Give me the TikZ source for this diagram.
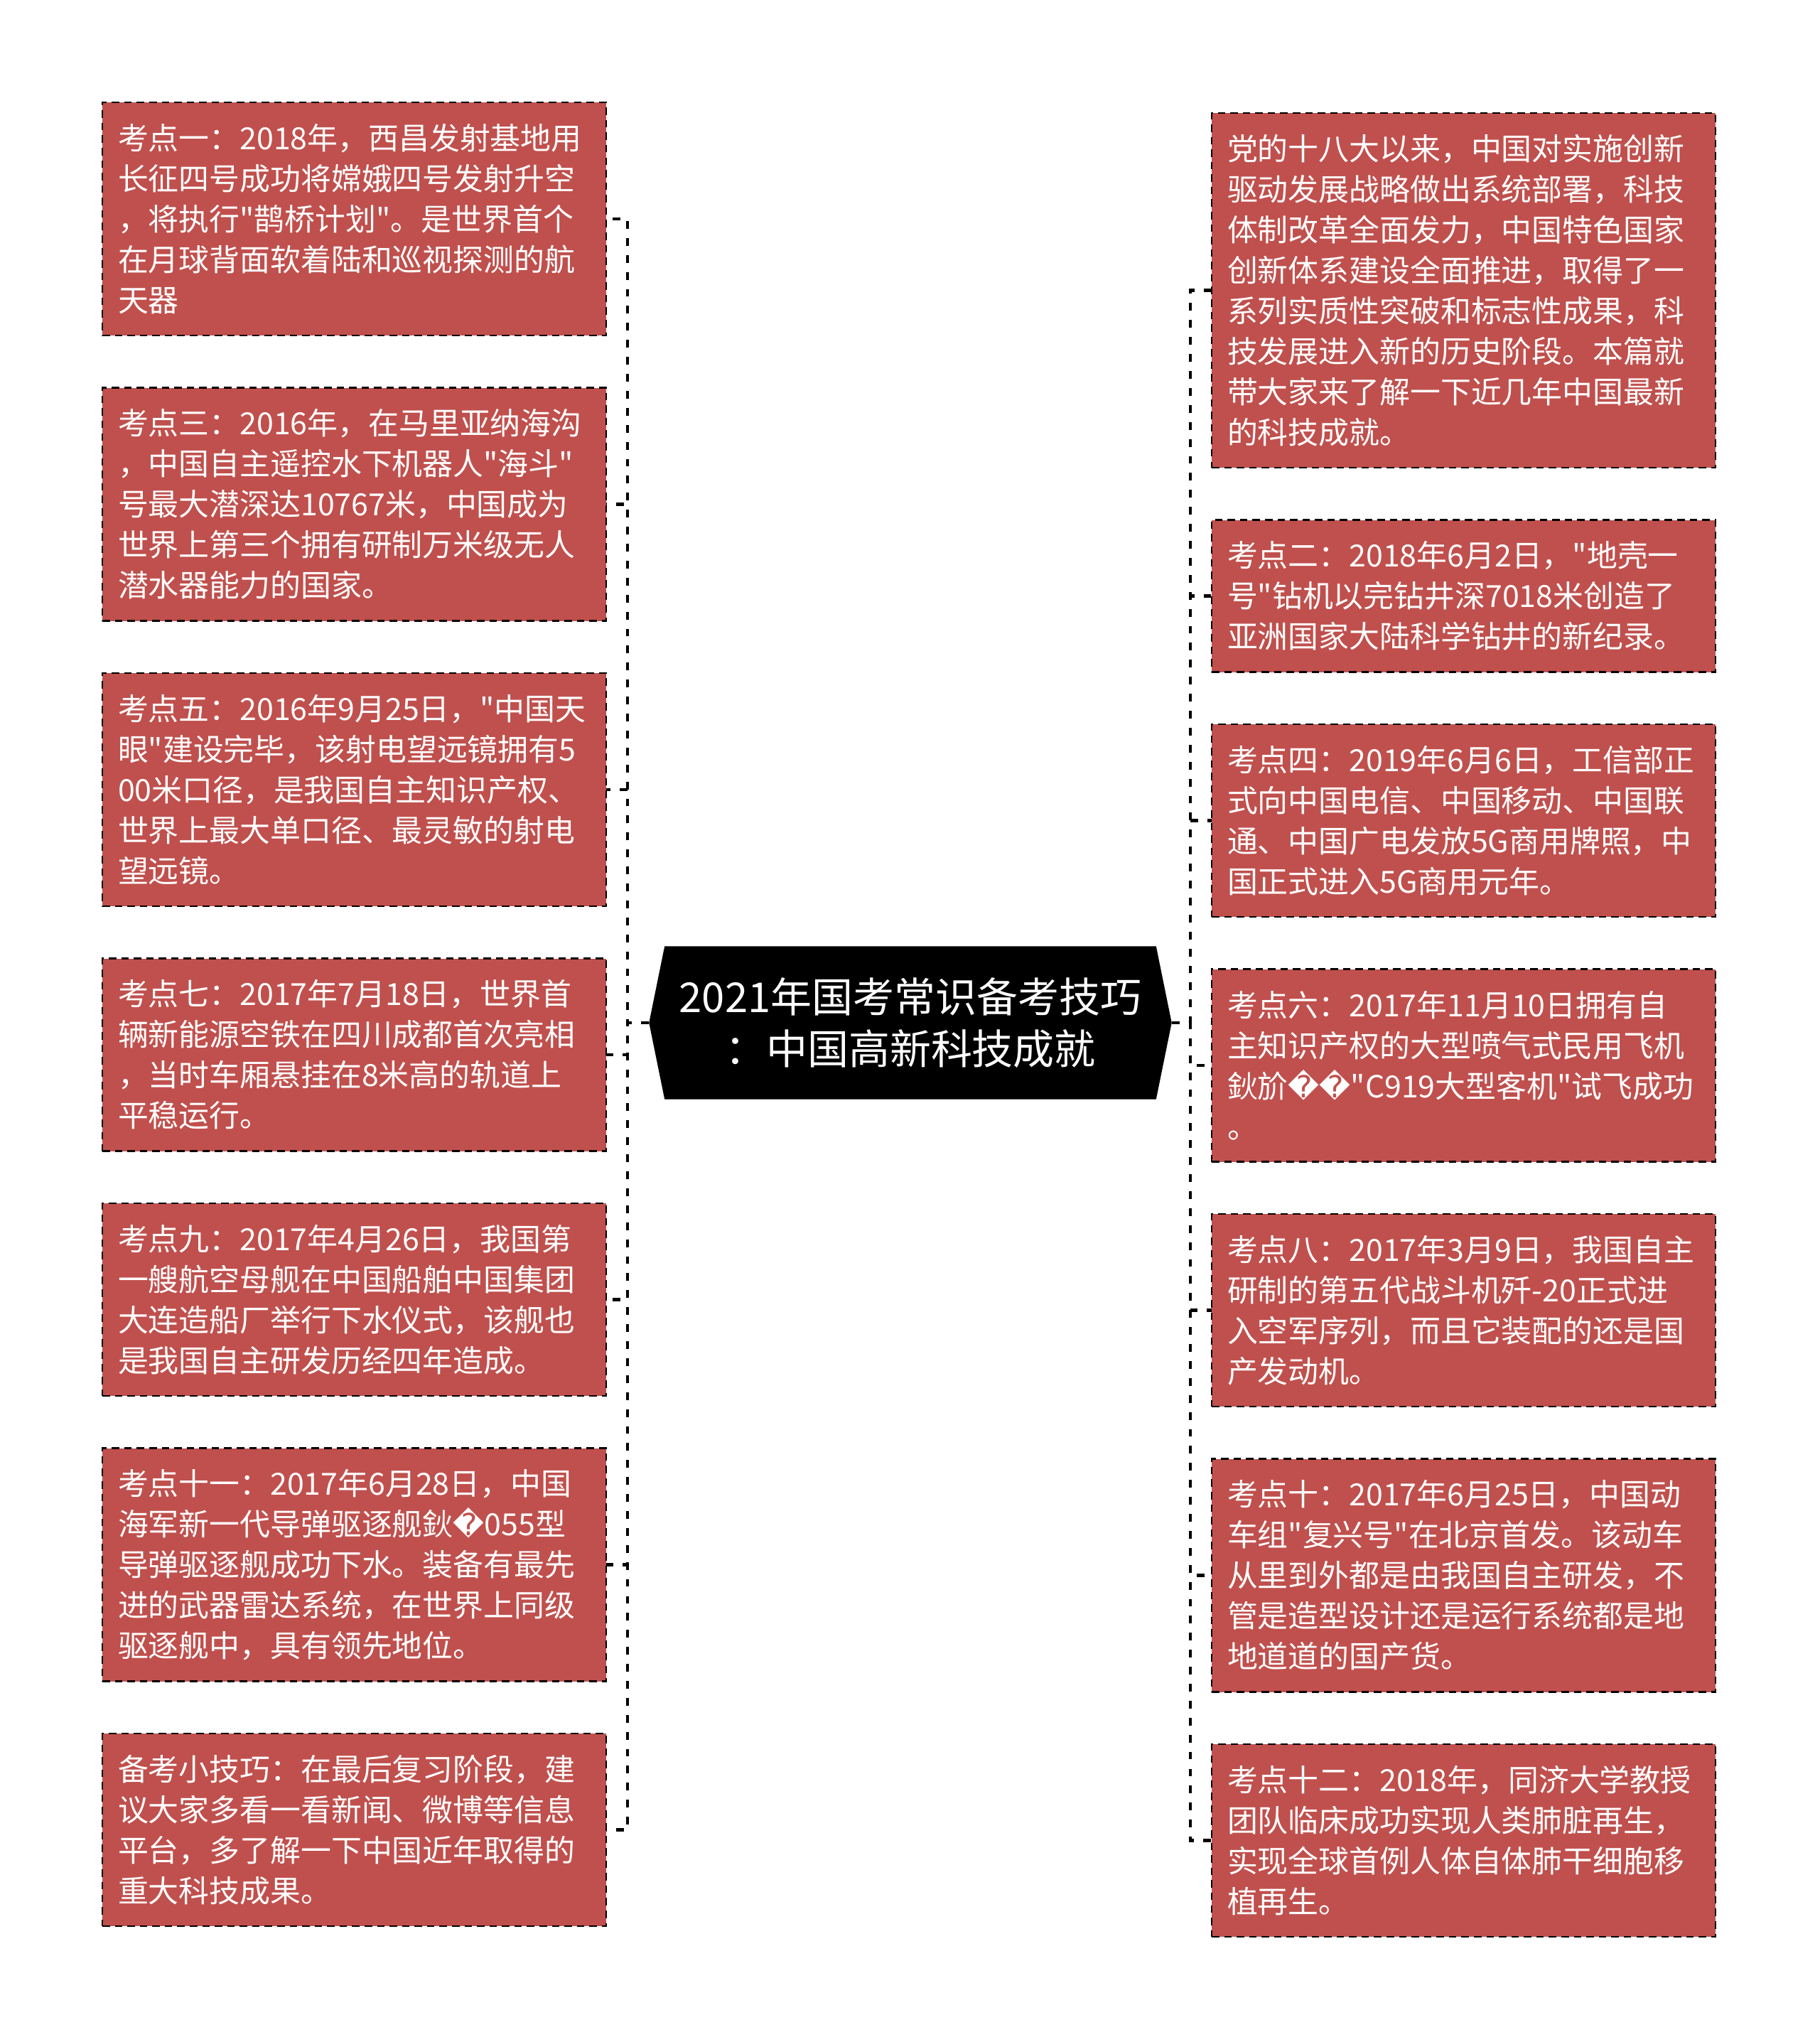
\documentclass[tikz,border=0pt]{standalone}
\usepackage{fontspec}
\setmainfont{Noto Sans CJK SC}[Ligatures=TeXOff]
\newfontfamily\djvfont{DejaVu Sans}
\usepackage{tikz}
\usetikzlibrary{positioning, shapes.symbols}

\definecolor{boxred}{HTML}{C0504D}
\newcommand{\badchar}{{\djvfont\symbol{"FFFD}}}

\begin{document}
\begin{tikzpicture}[
    node distance=0.735cm,
    fact/.style={draw=black, line width=0.7pt, dash pattern=on 3pt off 2pt,
                 fill=boxred, text=white, align=left, anchor=north west,
                 text width=6.65cm, inner xsep=0.22cm, inner ysep=0pt, outer sep=0pt,
                 minimum width=7.09cm, minimum height={0.57cm*#1+0.43cm},
                 font=\fontsize{12.2pt}{16.2pt}\selectfont},
    hub/.style={signal, signal to=west and east, signal pointer angle=157,
                fill=black, draw=black, text=white, align=center,
                minimum width=7.34cm, minimum height=2.14cm,
                font=\fontsize{16.5pt}{20.7pt}\selectfont},
    link/.style={draw=black, line width=1.25pt, dash pattern=on 3.1pt off 3.7pt}]
  \useasboundingbox (0,0) rectangle (25.60,-28.66);

  % centre topic
  \node[hub] (hub) at (12.81,-14.39)
    {2021年国考常识备考技巧\\：中国高新科技成就};

  % left column
  \node[fact=5] (l1) at (1.44,-1.44)
    {考点一：2018年，西昌发射基地用\\长征四号成功将嫦娥四号发射升空\\，将执行"鹊桥计划"。是世界首个\\在月球背面软着陆和巡视探测的航\\天器};
  \node[fact=5, below=of l1.south west, anchor=north west] (l2)
    {考点三：2016年，在马里亚纳海沟\\，中国自主遥控水下机器人"海斗"\\号最大潜深达10767米，中国成为\\世界上第三个拥有研制万米级无人\\潜水器能力的国家。};
  \node[fact=5, below=of l2.south west, anchor=north west] (l3)
    {考点五：2016年9月25日，"中国天\\眼"建设完毕，该射电望远镜拥有5\\00米口径，是我国自主知识产权、\\世界上最大单口径、最灵敏的射电\\望远镜。};
  \node[fact=4, below=of l3.south west, anchor=north west] (l4)
    {考点七：2017年7月18日，世界首\\辆新能源空铁在四川成都首次亮相\\，当时车厢悬挂在8米高的轨道上\\平稳运行。};
  \node[fact=4, below=of l4.south west, anchor=north west] (l5)
    {考点九：2017年4月26日，我国第\\一艘航空母舰在中国船舶中国集团\\大连造船厂举行下水仪式，该舰也\\是我国自主研发历经四年造成。};
  \node[fact=5, below=of l5.south west, anchor=north west] (l6)
    {考点十一：2017年6月28日，中国\\海军新一代导弹驱逐舰鈥\badchar 055型\\导弹驱逐舰成功下水。装备有最先\\进的武器雷达系统，在世界上同级\\驱逐舰中，具有领先地位。};
  \node[fact=4, below=of l6.south west, anchor=north west] (l7)
    {备考小技巧：在最后复习阶段，建\\议大家多看一看新闻、微博等信息\\平台，多了解一下中国近年取得的\\重大科技成果。};

  % right column
  \node[fact=8] (r1) at (17.05,-1.59)
    {党的十八大以来，中国对实施创新\\驱动发展战略做出系统部署，科技\\体制改革全面发力，中国特色国家\\创新体系建设全面推进，取得了一\\系列实质性突破和标志性成果，科\\技发展进入新的历史阶段。本篇就\\带大家来了解一下近几年中国最新\\的科技成就。};
  \node[fact=3, below=of r1.south west, anchor=north west] (r2)
    {考点二：2018年6月2日，"地壳一\\号"钻机以完钻井深7018米创造了\\亚洲国家大陆科学钻井的新纪录。};
  \node[fact=4, below=of r2.south west, anchor=north west] (r3)
    {考点四：2019年6月6日，工信部正\\式向中国电信、中国移动、中国联\\通、中国广电发放5G商用牌照，中\\国正式进入5G商用元年。};
  \node[fact=4, below=of r3.south west, anchor=north west] (r4)
    {考点六：2017年11月10日拥有自\\主知识产权的大型喷气式民用飞机\\鈥斺\badchar\badchar"C919大型客机"试飞成功\\。};
  \node[fact=4, below=of r4.south west, anchor=north west] (r5)
    {考点八：2017年3月9日，我国自主\\研制的第五代战斗机歼-20正式进\\入空军序列，而且它装配的还是国\\产发动机。};
  \node[fact=5, below=of r5.south west, anchor=north west] (r6)
    {考点十：2017年6月25日，中国动\\车组"复兴号"在北京首发。该动车\\从里到外都是由我国自主研发，不\\管是造型设计还是运行系统都是地\\地道道的国产货。};
  \node[fact=4, below=of r6.south west, anchor=north west] (r7)
    {考点十二：2018年，同济大学教授\\团队临床成功实现人类肺脏再生，\\实现全球首例人体自体肺干细胞移\\植再生。};

  % connectors to the left
  \draw[link] (hub.west) -- ++(-0.30,0) |- (l1.east);
  \draw[link] (hub.west) -- ++(-0.30,0) |- (l2.east);
  \draw[link] (hub.west) -- ++(-0.30,0) |- (l3.east);
  \draw[link] (hub.west) -- ++(-0.30,0) |- (l4.east);
  \draw[link] (hub.west) -- ++(-0.30,0) |- (l5.east);
  \draw[link] (hub.west) -- ++(-0.30,0) |- (l6.east);
  \draw[link] (hub.west) -- ++(-0.30,0) |- (l7.east);

  % connectors to the right
  \draw[link] (hub.east) -- ++(0.26,0) |- (r1.west);
  \draw[link] (hub.east) -- ++(0.26,0) |- (r2.west);
  \draw[link] (hub.east) -- ++(0.26,0) |- (r3.west);
  \draw[link] (hub.east) -- ++(0.26,0) |- (r4.west);
  \draw[link] (hub.east) -- ++(0.26,0) |- (r5.west);
  \draw[link] (hub.east) -- ++(0.26,0) |- (r6.west);
  \draw[link] (hub.east) -- ++(0.26,0) |- (r7.west);
\end{tikzpicture}
\end{document}
